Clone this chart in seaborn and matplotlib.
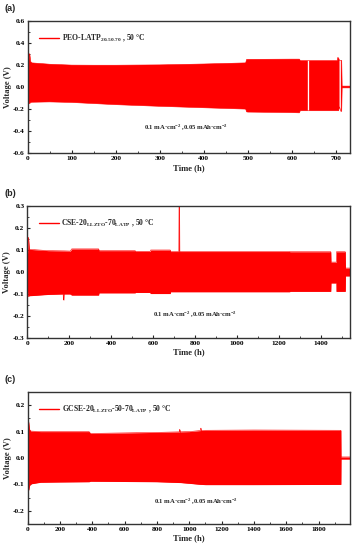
import numpy as np
import pandas as pd
import matplotlib
matplotlib.use("Agg")
import matplotlib.pyplot as plt
import seaborn as sns
from matplotlib.lines import Line2D
from matplotlib.ticker import MultipleLocator, AutoMinorLocator

sns.set_style("ticks")
plt.rcParams["font.family"] = ["Liberation Serif", "DejaVu Serif"]
plt.rcParams["font.weight"] = "bold"
plt.rcParams["mathtext.fontset"] = "custom"
plt.rcParams["mathtext.rm"] = "Liberation Serif:bold"
plt.rcParams["mathtext.it"] = "Liberation Serif:bold"
plt.rcParams["mathtext.bf"] = "Liberation Serif:bold"

nan = np.nan

# ---- Panel (a): PEO-LATP 20-50-70, voltage envelope (upper / lower) ----
t_a = [0, 1, 3, 4, 5, 7, 10, 50, 100, 150, 200, 300, 400, 495, 497, 500, 600, 617, 619, 636, 637, 639,
       700, 703, 704, 706, 708, 709, 711, 713, 714, 732]
up_a = [0.05, 0.22, 0.22, 0.30, 0.30, 0.23, 0.218, 0.206, 0.198, 0.197, 0.197, 0.200, 0.208, 0.218, 0.249, 0.250,
        0.252, 0.252, 0.238, 0.238, nan, 0.238, 0.238, 0.238, 0.267, 0.262, 0.24, nan, 0.24, 0.24, 0.008, 0.008]
lo_a = [-0.05, -0.14, -0.14, -0.15, -0.15, -0.14, -0.138, -0.135, -0.140, -0.150, -0.160, -0.175, -0.188, -0.200,
        -0.225, -0.227, -0.232, -0.234, -0.215, -0.215, nan, -0.215, -0.215, -0.215, -0.215, -0.215, -0.18, nan,
        -0.22, -0.22, -0.008, -0.008]

# ---- Panel (b): CSE-20LLZTO-70LATP ----
t_b = [0, 2, 4, 6, 10, 100, 171, 172, 174, 175, 205, 212, 340, 342, 514, 516, 586, 588, 681, 683,
       722, 723, 725, 726, 1250, 1252, 1446, 1447, 1472, 1473, 1515, 1516, 1538]
up_b = [0.05, 0.105, 0.157, 0.157, 0.103, 0.097, 0.096, 0.096, 0.096, 0.096, 0.095, 0.105, 0.105, 0.097, 0.097, 0.094,
        0.094, 0.100, 0.100, 0.093, 0.093, 0.30, 0.30, 0.093, 0.093, 0.092, 0.092, 0.045, 0.045, 0.092, 0.092, 0.018, 0.018]
lo_b = [-0.05, -0.108, -0.110, -0.110, -0.108, -0.102, -0.100, -0.127, -0.127, -0.100, -0.100, -0.105, -0.105, -0.095,
        -0.095, -0.093, -0.093, -0.098, -0.098, -0.090, -0.090, -0.090, -0.090, -0.090, -0.090, -0.088, -0.088,
        -0.050, -0.050, -0.088, -0.088, -0.018, -0.018]

# ---- Panel (c): GCSE-20LLZTO-50-70LATP ----
t_c = [0, 3, 6, 8, 12, 20, 80, 200, 380, 389, 600, 800, 939, 940, 942, 943, 1000, 1070, 1071, 1073, 1074,
       1100, 1400, 1938, 1939, 1995]
up_c = [0.05, 0.105, 0.14, 0.13, 0.108, 0.102, 0.100, 0.100, 0.100, 0.093, 0.095, 0.097, 0.099, 0.108, 0.108, 0.099,
        0.100, 0.104, 0.113, 0.113, 0.104, 0.105, 0.106, 0.105, 0.004, 0.004]
lo_c = [-0.05, -0.105, -0.122, -0.12, -0.105, -0.098, -0.092, -0.091, -0.090, -0.088, -0.089, -0.090, -0.093, -0.093,
        -0.093, -0.093, -0.096, -0.100, -0.100, -0.100, -0.100, -0.101, -0.101, -0.100, -0.004, -0.004]

panels = [
    dict(t=t_a, up=up_a, lo=lo_a, tag="(a)",
         label=r"PEO-LATP$_{20\text{-}50\text{-}70}$ , 50 °C",
         xlim=(0, 732), xstep=100, ylim=(-0.6, 0.6), ystep=0.2, yfmt="{:.1f}",
         note_xy=(360, -0.375),
         rect=[0.078, 0.7208, 0.911, 0.2415], tag_y=0.985),
    dict(t=t_b, up=up_b, lo=lo_b, tag="(b)",
         label=r"CSE-20$_{LLZTO}$-70$_{LATP}$ , 50 °C",
         xlim=(0, 1538), xstep=200, ylim=(-0.3, 0.3), ystep=0.1, yfmt="{:.1f}",
         note_xy=(800, -0.197),
         rect=[0.077, 0.3843, 0.912, 0.2405], tag_y=0.648),
    dict(t=t_c, up=up_c, lo=lo_c, tag="(c)",
         label=r"GCSE-20$_{LLZTO}$-50-70$_{LATP}$ , 50 °C",
         xlim=(0, 1995), xstep=200, ylim=(-0.25, 0.25), ystep=0.1, yfmt="{:.1f}",
         note_xy=(1045, -0.167),
         rect=[0.078, 0.0455, 0.911, 0.2405], tag_y=0.309),
]

fig = plt.figure(figsize=(3.54, 5.49), dpi=100)
red = "#ff0000"

for p in panels:
    ax = fig.add_axes(p["rect"])
    df = pd.DataFrame({"t": p["t"], "up": p["up"], "lo": p["lo"]})
    ax.fill_between(df["t"], df["lo"], df["up"], color=red, lw=0, zorder=2)
    sns.lineplot(data=df, x="t", y="up", ax=ax, color=red, lw=0.4, zorder=2)
    sns.lineplot(data=df, x="t", y="lo", ax=ax, color=red, lw=0.4, zorder=2)

    ax.set_xlim(*p["xlim"])
    ax.set_ylim(*p["ylim"])
    ax.xaxis.set_major_locator(MultipleLocator(p["xstep"]))
    ax.xaxis.set_minor_locator(AutoMinorLocator(2))
    yt = np.arange(-1.0, 1.0001, p["ystep"])
    yt = [v for v in yt if p["ylim"][0] - 1e-9 <= v <= p["ylim"][1] + 1e-9]
    ax.set_yticks(yt)
    ax.set_yticklabels([("0.0" if abs(v) < 1e-9 else p["yfmt"].format(v)) for v in yt])
    ax.yaxis.set_minor_locator(AutoMinorLocator(2))
    ax.tick_params(axis="both", which="major", direction="in", length=2.5, width=0.8,
                   labelsize=5.3, pad=2)
    ax.tick_params(axis="both", which="minor", direction="in", length=1.5, width=0.6)
    for lab in ax.get_xticklabels() + ax.get_yticklabels():
        lab.set_fontweight("bold")
        lab.set_color("black")
    for s in ax.spines.values():
        s.set_linewidth(1.0)
        s.set_color("#333333")
        s.set_visible(True)
        s.set_zorder(3)

    ax.set_xlabel("Time (h)", fontsize=6.2, fontweight="bold", labelpad=2)
    ax.set_ylabel("Voltage (V)", fontsize=6.2, fontweight="bold", labelpad=1)

    h = Line2D([0], [0], color=red, lw=1.0)
    ax.legend([h], [p["label"]], loc="upper left", frameon=False, fontsize=5.5,
              handlelength=2.6, handletextpad=0.3, borderaxespad=0.3,
              bbox_to_anchor=(0.02, 0.95))
    ax.text(p["note_xy"][0], p["note_xy"][1],
            r"0.1 mA·cm$^{-2}$ ,0.05 mAh·cm$^{-2}$",
            ha="center", va="center", fontsize=4.8, fontweight="bold")
    fig.text(0.012, p["tag_y"], p["tag"], fontsize=6.5, fontweight="bold",
             family=["Liberation Sans", "DejaVu Sans"], va="center", ha="left")

fig.savefig("out.png", dpi=100)
